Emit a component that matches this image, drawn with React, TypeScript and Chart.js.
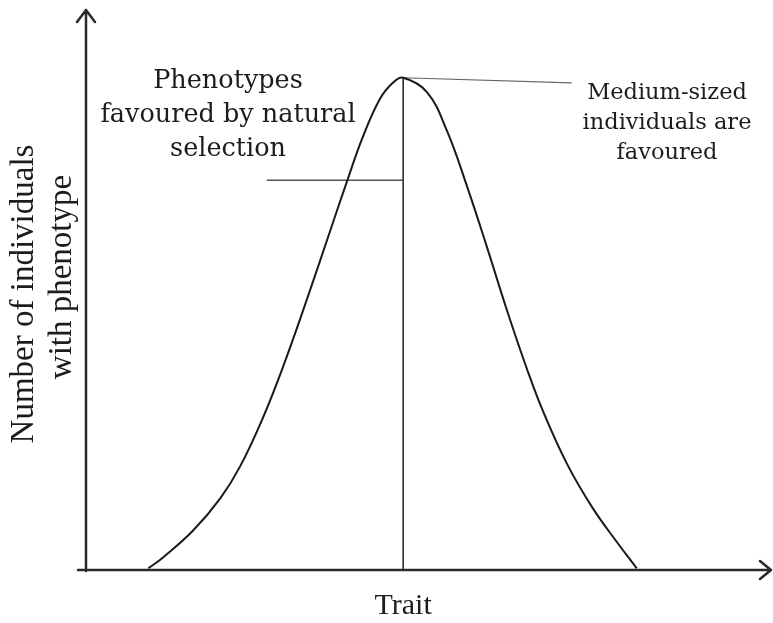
import React, { useEffect, useRef } from "react";
import { Chart, registerables } from "chart.js";

Chart.register(...registerables);

// Trait value (0-100) and number of individuals (0-100)
const curveX = [9.1, 11.2, 15.6, 19.6, 22.5, 25.8, 28.8, 32.3, 35.6, 38.1, 40.4, 42.9, 44.8, 46.3, 49.8, 52.7, 55.6, 58.5, 61.5, 64.4, 66.7, 70.2, 74.0, 77.5, 80.4];
const curveY = [0.3, 2.2, 7.0, 12.8, 18.5, 27.1, 36.4, 48.5, 60.4, 69.4, 77.3, 84.1, 87.0, 87.9, 85.3, 78.4, 68.6, 57.8, 46.2, 35.8, 28.4, 19.0, 11.0, 5.0, 0.3];

const peakX = 46.3;
const peakY = 87.9;
const favouredLineX = [26.4, 46.3];
const favouredLineY = 69.6;
const leaderEnd = { x: 70.9, y: 87.0 };

const xTitle = "Trait";
const yTitle = ["Number of individuals", "with phenotype"];
const leftNote = ["Phenotypes", "favoured by natural", "selection"];
const rightNote = ["Medium-sized", "individuals are", "favoured"];

const textPlugin = {
  id: "diagramText",
  afterDraw(chart: any) {
    const ctx = chart.ctx as CanvasRenderingContext2D;
    const a = chart.chartArea;
    const xs = chart.scales.x;
    ctx.save();
    // axes with arrows
    ctx.strokeStyle = "#2a2a2a";
    ctx.lineWidth = 2.5;
    ctx.lineCap = "round";
    ctx.lineJoin = "round";
    ctx.beginPath();
    ctx.moveTo(a.left - 8, a.bottom);
    ctx.lineTo(a.right, a.bottom);
    ctx.moveTo(a.right - 11, a.bottom - 9);
    ctx.lineTo(a.right, a.bottom);
    ctx.lineTo(a.right - 11, a.bottom + 9);
    ctx.moveTo(a.left, a.bottom + 1);
    ctx.lineTo(a.left, a.top);
    ctx.moveTo(a.left - 9, a.top + 12);
    ctx.lineTo(a.left, a.top);
    ctx.lineTo(a.left + 9, a.top + 12);
    ctx.stroke();

    ctx.fillStyle = "#1c1c1c";
    ctx.textAlign = "center";
    ctx.textBaseline = "middle";
    // x title
    ctx.font = "30px 'Liberation Serif'";
    ctx.fillText(xTitle, xs.getPixelForValue(peakX), a.bottom + 36);
    // y title
    ctx.save();
    ctx.translate(a.left - 62, (a.top + a.bottom) / 2 + 4);
    ctx.rotate(-Math.PI / 2);
    ctx.font = "33px 'Liberation Serif'";
    ctx.fillText(yTitle[0], 0, 0);
    ctx.fillText(yTitle[1], 17, 38);
    ctx.restore();
    // left note
    ctx.font = "25.5px 'DejaVu Serif'";
    const lx = a.left + 142;
    leftNote.forEach((t, i) => ctx.fillText(t, lx, a.top + 71 + i * 34));
    // right note
    ctx.font = "22.5px 'DejaVu Serif'";
    const rx = a.left + 581;
    rightNote.forEach((t, i) => ctx.fillText(t, rx, a.top + 83 + i * 30));
    ctx.restore();
  },
};

export default function App() {
  const ref = useRef<HTMLCanvasElement>(null);
  useEffect(() => {
    if (!ref.current) return;
    const curve = curveX.map((x, i) => ({ x, y: curveY[i] }));
    const chart = new Chart(ref.current, {
      type: "line",
      data: {
        datasets: [
          {
            data: curve,
            borderColor: "#1a1a1a",
            borderWidth: 2,
            pointRadius: 0,
            tension: 0.4,
            fill: false,
          },
          {
            data: [{ x: peakX, y: 0 }, { x: peakX, y: peakY }],
            borderColor: "#2e2e2e",
            borderWidth: 1.6,
            pointRadius: 0,
          },
          {
            data: favouredLineX.map((x) => ({ x, y: favouredLineY })),
            borderColor: "#555",
            borderWidth: 1.6,
            pointRadius: 0,
          },
          {
            data: [{ x: peakX, y: peakY }, leaderEnd],
            borderColor: "#666",
            borderWidth: 1.2,
            pointRadius: 0,
          },
        ],
      },
      options: {
        animation: false,
        responsive: false,
        maintainAspectRatio: false,
        layout: { padding: { left: 86, right: 2, top: 10, bottom: 53 } },
        plugins: { legend: { display: false }, tooltip: { enabled: false } },
        scales: {
          x: { type: "linear", min: 0, max: 100, display: false },
          y: { type: "linear", min: 0, max: 100, display: false },
        },
      },
      plugins: [textPlugin],
    });
    return () => chart.destroy();
  }, []);
  return (
    <div style={{ position: "fixed", left: 0, top: 0, width: 773, height: 623, background: "#fff" }}>
      <canvas ref={ref} width={773} height={623} style={{ display: "block" }} />
    </div>
  );
}
